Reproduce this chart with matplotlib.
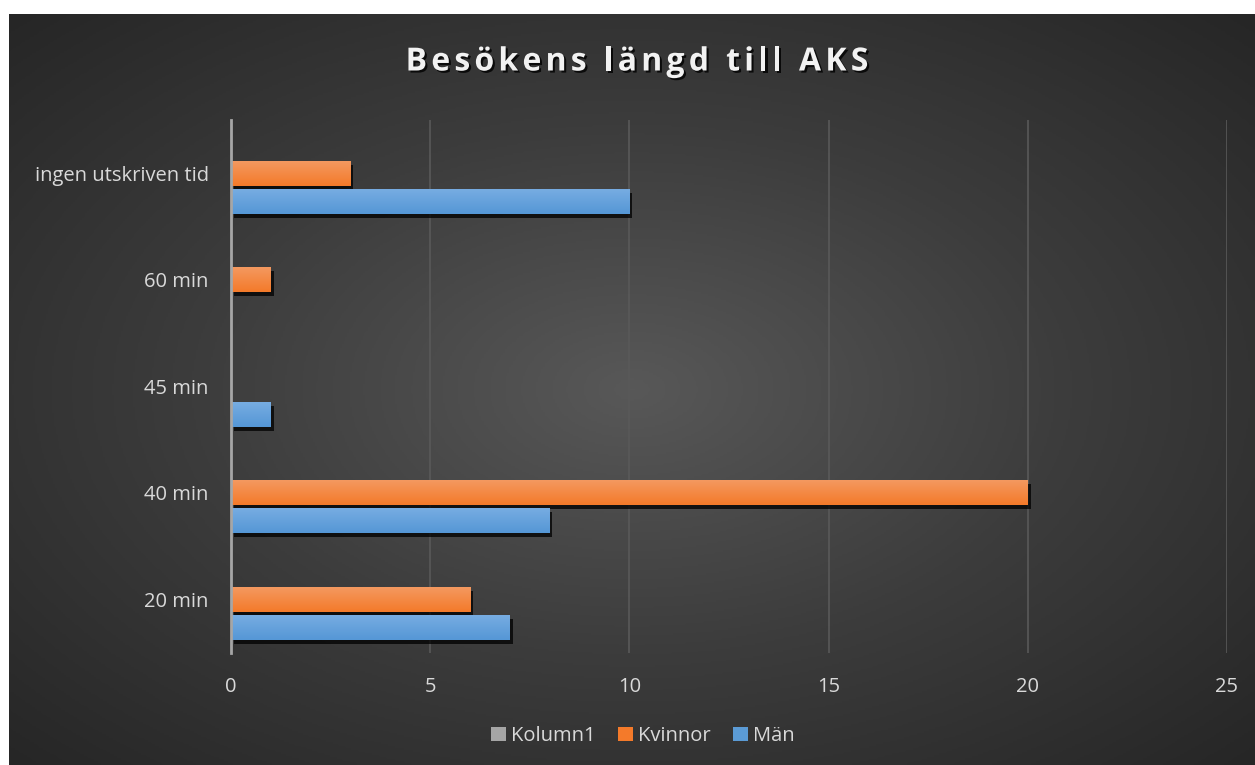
import numpy as np
import matplotlib
matplotlib.use("Agg")
import matplotlib.pyplot as plt
import matplotlib.patheffects as pe
from matplotlib.colors import LinearSegmentedColormap
from matplotlib.patches import Patch

# =====================================================
# DATA
# =====================================================
categories = ["20 min", "40 min", "45 min", "60 min", "ingen utskriven tid"]
kolumn1 = [0, 0, 0, 0, 0]
kvinnor = [6, 20, 0, 1, 3]
man = [7, 8, 1, 0, 10]

TITLE = "Besökens längd till AKS"
FONT = ["Open Sans", "DejaVu Sans"]

W, H = 1255, 765
plt.rcParams["font.family"] = FONT

fig = plt.figure(figsize=(W / 100, H / 100), dpi=100, facecolor="white")

# ----- background with radial gradient -----
bg = fig.add_axes([9 / W, 0, 1 - 9 / W, 1 - 14 / H])
yy, xx = np.mgrid[-1:1:400j, -1:1:700j]
r = np.sqrt(xx ** 2 + yy ** 2) / np.sqrt(2)
bg_cmap = LinearSegmentedColormap.from_list("bg", ["#585858", "#3c3c3c", "#262626"])
bg.imshow(r, cmap=bg_cmap, aspect="auto", extent=[0, 1, 0, 1], vmin=0, vmax=1)
bg.set_axis_off()

# ----- main axes -----
ax = fig.add_axes([231 / W, 1 - 652.5 / H, (1227 - 231) / W, (652.5 - 120) / H])
ax.set_facecolor("none")

y = np.arange(len(categories))
bh = 0.235
off = 0.263

series = [
    (man, -off, "#78ADE2", "#5597D6", "Män"),
    (kvinnor, 0.0, "#F39A62", "#F47A2A", "Kvinnor"),
    (kolumn1, off, "#BDBDBD", "#A0A0A0", "Kolumn1"),
]

grad = np.linspace(0, 1, 50).reshape(-1, 1)
for vals, dy, ctop, cbot, name in series:
    cmap = LinearSegmentedColormap.from_list(name, [cbot, ctop])
    bars = ax.barh(y + dy, vals, height=bh, color=cbot, zorder=2,
                   path_effects=[pe.SimplePatchShadow(offset=(2, -3), shadow_rgbFace="black", alpha=0.75),
                                 pe.Normal()])
    for b, v in zip(bars, vals):
        if v <= 0:
            continue
        x0, y0 = b.get_x(), b.get_y()
        im = ax.imshow(grad, cmap=cmap, aspect="auto", origin="lower",
                       extent=[x0, x0 + b.get_width(), y0, y0 + b.get_height()], zorder=3)
        im.set_clip_path(b)

ax.set_xlim(0, 25)
ax.set_ylim(-0.5, 4.5)
ax.set_xticks([0, 5, 10, 15, 20, 25])
ax.set_yticks(y)
ax.set_yticklabels(categories)
ax.grid(axis="x", color="#595959", linewidth=1.2, zorder=1)
ax.set_axisbelow(True)
for s in ["top", "right", "bottom"]:
    ax.spines[s].set_visible(False)
ax.spines["left"].set_color("#a6a6a6")
ax.spines["left"].set_linewidth(2)
ax.spines["left"].set_zorder(5)
ax.tick_params(axis="both", length=0, colors="#d9d9d9", labelsize=14.5)
ax.tick_params(axis="x", pad=18)
ax.tick_params(axis="y", pad=16)

# ----- title with letter spacing -----
renderer = fig.canvas.get_renderer()
title_kw = dict(fontsize=23, fontweight="bold", color="#f2f2f2", va="center",
                path_effects=[pe.withSimplePatchShadow(offset=(1.5, -1.5), shadow_rgbFace="black", alpha=0.8)])
spacing = 4.2
widths = []
for ch in TITLE:
    t = fig.text(0, 0, ch if ch != " " else "a", **title_kw)
    w = t.get_window_extent(renderer).width
    if ch == " ":
        w *= 0.45
    widths.append(w)
    t.remove()
total = sum(widths) + spacing * (len(TITLE) - 1)
xpos = 637 - total / 2
for ch, w in zip(TITLE, widths):
    if ch != " ":
        fig.text(xpos / W, 1 - 62 / H, ch, ha="left", **title_kw)
    xpos += w + spacing

# ----- legend -----
handles = [Patch(facecolor="#A5A5A5", label="Kolumn1"),
           Patch(facecolor="#F47A2A", label="Kvinnor"),
           Patch(facecolor="#5B9BD5", label="Män")]
fig.legend(handles=handles, loc="center", bbox_to_anchor=(643 / W, 1 - 736 / H),
           ncol=3, frameon=False, fontsize=14.5, labelcolor="#d9d9d9",
           handlelength=0.75, handleheight=0.75, handletextpad=0.25, columnspacing=1.1)

fig.savefig("out.png", dpi=100, facecolor="white")
plt.close()
